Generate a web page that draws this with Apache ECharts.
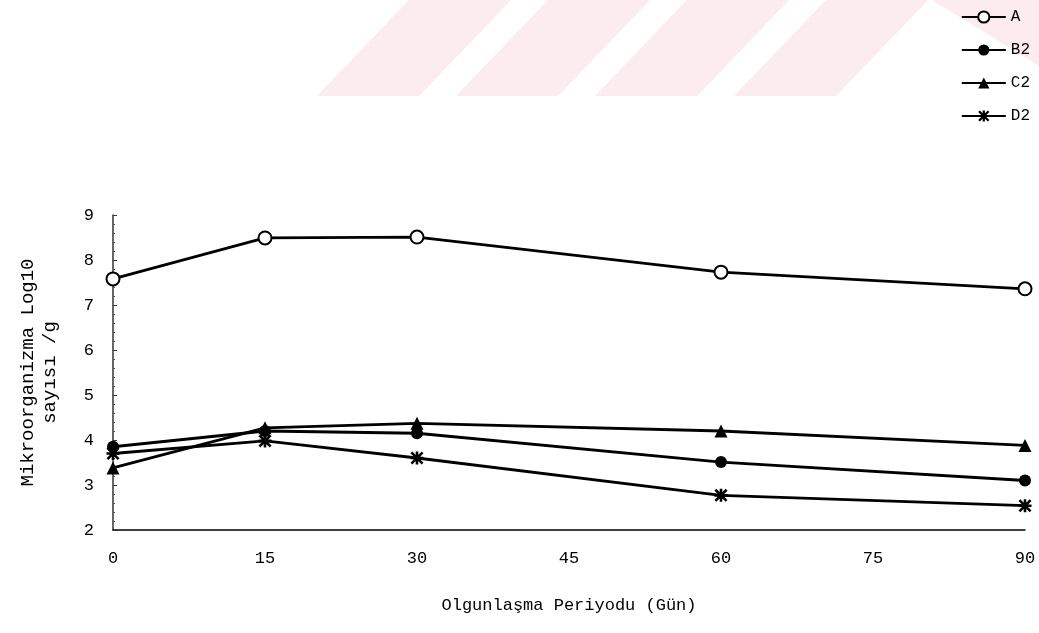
<!DOCTYPE html>
<html>
<head>
<meta charset="utf-8">
<script src="https://cdn.jsdelivr.net/npm/echarts@6/dist/echarts.min.js"></script>
<style>
html,body{margin:0;padding:0;background:#fff;}
#chart{width:1039px;height:633px;}
</style>
</head>
<body>
<div id="chart"></div>
<script>
var days = [0, 15, 30, 60, 90];
var seriesNames = ['A', 'B2', 'C2', 'D2'];
var valuesA  = [7.58, 8.49, 8.51, 7.73, 7.36];
var valuesB2 = [3.85, 4.20, 4.15, 3.51, 3.10];
var valuesC2 = [3.38, 4.27, 4.37, 4.20, 3.88];
var valuesD2 = [3.70, 3.98, 3.60, 2.77, 2.54];
var xTicks = [0, 15, 30, 45, 60, 75, 90];
var yTicks = [2, 3, 4, 5, 6, 7, 8, 9];

var font = 'Liberation Mono, DejaVu Sans Mono, monospace';
var star = 'path://M4,0H6V10H4Z M0,1.4L1.4,0L10,8.6L8.6,10Z M8.6,0L10,1.4L1.4,10L0,8.6Z M0,4H10V6H0Z';

function pairs(vals){ return days.map(function(d,i){ return [d, vals[i]]; }); }

var pink = '#fcecef';
function stripe(x){ return {type:'polygon', silent:true, z:-10, shape:{points:[[x,96],[x+102,96],[x+194,0],[x+92,0]]}, style:{fill:pink}}; }

var chart = echarts.init(document.getElementById('chart'), null, {renderer:'canvas'});
var lineStyle = {color:'#000', width:2.8};
function mk(name, vals, symbol, size){
  return {
    name: name, type:'line', data: pairs(vals),
    symbol: symbol, symbolSize: size, showAllSymbol:true,
    lineStyle: lineStyle,
    itemStyle: symbol==='emptyCircle' ? {color:'#000', borderColor:'#000', borderWidth:2.2} : {color:'#000'},
    emphasis: {disabled:true}
  };
}
chart.setOption({
  animation:false,
  backgroundColor:'#fff',
  graphic:[
    stripe(317), stripe(456), stripe(595), stripe(734),
    {type:'polygon', silent:true, z:-10, shape:{points:[[932,0],[1039,0],[1039,66]]}, style:{fill:pink}}
  ],
  legend:{
    orient:'vertical', right:4, top:4, itemGap:17, itemWidth:44, itemHeight:14,
    data: seriesNames,
    textStyle:{fontFamily:font, fontSize:16, color:'#000'}
  },
  grid:{left:113, right:14, top:215, bottom:103, containLabel:false},
  xAxis:{
    type:'value', min:0, max:90, interval:15,
    name:'Olgunlaşma Periyodu (Gün)', nameLocation:'middle', nameGap:67,
    nameTextStyle:{fontFamily:font, fontSize:17, color:'#000'},
    axisLine:{lineStyle:{color:'#000', width:1.5}},
    axisTick:{show:false},
    splitLine:{show:false},
    axisLabel:{margin:20, fontFamily:font, fontSize:17, color:'#000',
      customValues: xTicks}
  },
  yAxis:{
    type:'value', min:2, max:9, interval:1,
    name:'Mikroorganizma Log10\nsayısı /g', nameLocation:'middle', nameGap:52, nameRotate:90,
    nameTextStyle:{fontFamily:font, fontSize:19, color:'#000', lineHeight:22, align:'center'},
    axisLine:{show:true, lineStyle:{color:'#333', width:1.5}},
    axisTick:{show:true, inside:true, length:4, lineStyle:{color:'#333'}},
    minorTick:{show:true, splitNumber:5, length:2, lineStyle:{color:'#555'}},
    splitLine:{show:false},
    axisLabel:{margin:19, fontFamily:font, fontSize:17, color:'#000', customValues: yTicks}
  },
  series:[
    mk('A', valuesA, 'emptyCircle', 13),
    mk('B2', valuesB2, 'circle', 12),
    mk('C2', valuesC2, 'triangle', 13),
    mk('D2', valuesD2, star, 13)
  ]
});
</script>
</body>
</html>
